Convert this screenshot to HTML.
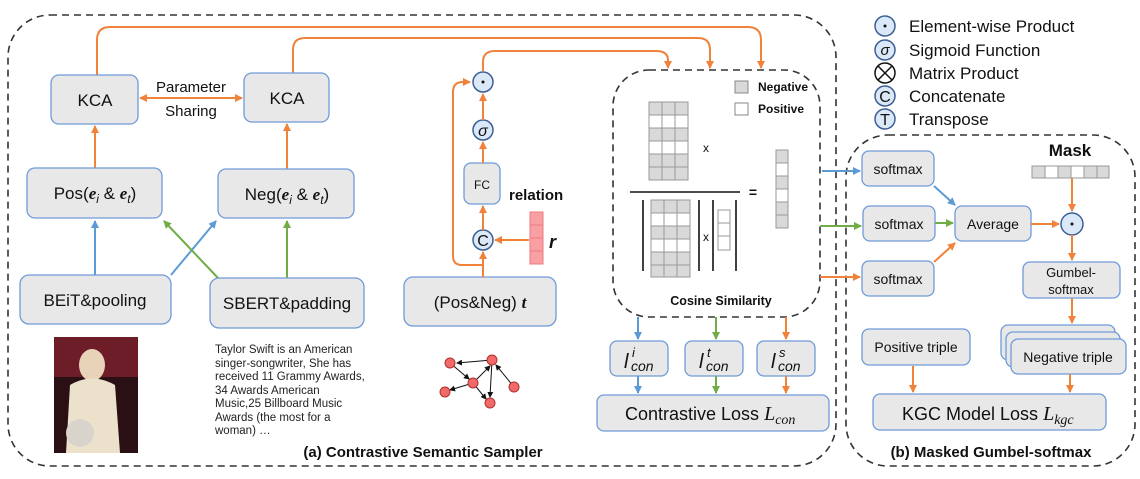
<!DOCTYPE html>
<html><head><meta charset="utf-8"><style>
html,body{margin:0;padding:0;background:#fff}
svg{display:block}
text{font-family:"Liberation Sans",sans-serif}
.b{fill:#e8e8e8;stroke:#6f9bd8;stroke-width:1.3}
.o{stroke:#f0823a;stroke-width:2;fill:none}
.bl{stroke:#5b9bd5;stroke-width:2;fill:none}
.g{stroke:#70ad47;stroke-width:2;fill:none}
.d{fill:none;stroke:#333;stroke-width:1.6;stroke-dasharray:7,5}
.c{fill:#dbe8f7;stroke:#3c5f95;stroke-width:1.5}
.t{font-size:17px;fill:#111;text-anchor:middle}
.s{font-size:14px;fill:#111;text-anchor:middle}
</style></head><body>
<svg width="1140" height="479" viewBox="0 0 1140 479" xmlns="http://www.w3.org/2000/svg">
<defs>
<marker id="ao" markerWidth="8" markerHeight="8" refX="7" refY="4" orient="auto" markerUnits="userSpaceOnUse"><path d="M0,0 L8,4 L0,8z" fill="#f0823a"/></marker>
<marker id="ab" markerWidth="8" markerHeight="8" refX="7" refY="4" orient="auto" markerUnits="userSpaceOnUse"><path d="M0,0 L8,4 L0,8z" fill="#5b9bd5"/></marker>
<marker id="ag" markerWidth="8" markerHeight="8" refX="7" refY="4" orient="auto" markerUnits="userSpaceOnUse"><path d="M0,0 L8,4 L0,8z" fill="#70ad47"/></marker>
<marker id="aos" markerWidth="8" markerHeight="8" refX="1" refY="4" orient="auto" markerUnits="userSpaceOnUse"><path d="M8,0 L0,4 L8,8z" fill="#f0823a"/></marker>
<marker id="ak" markerWidth="6" markerHeight="6" refX="5" refY="3" orient="auto" markerUnits="userSpaceOnUse"><path d="M0,0 L6,3 L0,6z" fill="#111"/></marker>
</defs>

<!-- outer boxes -->
<rect class="d" x="8" y="15" width="828" height="451" rx="42"/>
<rect class="d" x="846" y="135" width="289" height="331" rx="42"/>
<rect class="d" x="613" y="70" width="207" height="247" rx="36"/>

<!-- top orange lines -->
<path class="o" d="M97,75 V40 Q97,27 110,27 H748 Q761,27 761,40 V68" marker-end="url(#ao)"/>
<path class="o" d="M293,73 V50 Q293,38 305,38 H698 Q710,38 710,50 V68" marker-end="url(#ao)"/>
<path class="o" d="M483,71 V62 Q483,51 495,51 H656 Q668,51 668,60 V68" marker-end="url(#ao)"/>

<!-- KCA -->
<rect class="b" x="51" y="75" width="87" height="49" rx="8"/><text class="t" x="95" y="106">KCA</text>
<rect class="b" x="244" y="73" width="85" height="49" rx="8"/><text class="t" x="287" y="104">KCA</text>
<line class="o" x1="140" y1="98" x2="242" y2="98" marker-start="url(#aos)" marker-end="url(#ao)"/>
<text class="s" x="191" y="92" style="font-size:15px">Parameter</text>
<text class="s" x="191" y="116" style="font-size:15px">Sharing</text>
<line class="o" x1="95" y1="168" x2="95" y2="126" marker-end="url(#ao)"/>
<line class="o" x1="287" y1="169" x2="287" y2="124" marker-end="url(#ao)"/>

<!-- Pos/Neg -->
<rect class="b" x="27" y="168" width="135" height="50" rx="8"/>
<text class="t" x="95" y="199">Pos(<tspan font-weight="bold" font-style="italic" font-family="Liberation Serif">e</tspan><tspan font-size="12" font-style="italic" dy="4">i</tspan><tspan dy="-4"> &amp; </tspan><tspan font-weight="bold" font-style="italic" font-family="Liberation Serif">e</tspan><tspan font-size="12" font-style="italic" dy="4">t</tspan><tspan dy="-4">)</tspan></text>
<rect class="b" x="218" y="169" width="136" height="49" rx="8"/>
<text class="t" x="287" y="200">Neg(<tspan font-weight="bold" font-style="italic" font-family="Liberation Serif">e</tspan><tspan font-size="12" font-style="italic" dy="4">i</tspan><tspan dy="-4"> &amp; </tspan><tspan font-weight="bold" font-style="italic" font-family="Liberation Serif">e</tspan><tspan font-size="12" font-style="italic" dy="4">t</tspan><tspan dy="-4">)</tspan></text>

<!-- cross lines -->
<line class="bl" x1="95" y1="275" x2="95" y2="221" marker-end="url(#ab)"/>
<line class="bl" x1="171" y1="275" x2="216" y2="221" marker-end="url(#ab)"/>
<line class="g" x1="218" y1="278" x2="164" y2="221" marker-end="url(#ag)"/>
<line class="g" x1="287" y1="278" x2="287" y2="221" marker-end="url(#ag)"/>

<!-- BEiT / SBERT / PosNeg t -->
<rect class="b" x="20" y="275" width="151" height="49" rx="9"/><text class="t" x="95" y="306">BEiT&amp;pooling</text>
<rect class="b" x="210" y="278" width="154" height="50" rx="9"/><text class="t" x="287" y="309">SBERT&amp;padding</text>
<rect class="b" x="404" y="277" width="152" height="49" rx="9"/><text class="t" x="480" y="308">(Pos&amp;Neg) <tspan font-weight="bold" font-style="italic" font-family="Liberation Serif">t</tspan></text>

<!-- relation branch -->
<line class="o" x1="483" y1="277" x2="483" y2="252" marker-end="url(#ao)"/>
<path class="o" d="M483,265 H462 Q453,265 453,256 V92 Q453,82 463,82 H470" marker-end="url(#ao)"/>
<circle class="c" cx="483" cy="240" r="10"/><text class="s" x="483" y="246" style="font-size:16px">C</text>
<line class="o" x1="483" y1="230" x2="483" y2="206" marker-end="url(#ao)"/>
<rect class="b" x="464" y="163" width="36" height="41" rx="7"/><text class="s" x="482" y="189" style="font-size:12px">FC</text>
<line class="o" x1="483" y1="163" x2="483" y2="142" marker-end="url(#ao)"/>
<circle class="c" cx="483" cy="130" r="10"/><text class="s" x="483" y="136" style="font-size:16px;font-style:italic" font-family="Liberation Serif">σ</text>
<line class="o" x1="483" y1="120" x2="483" y2="94" marker-end="url(#ao)"/>
<circle class="c" cx="483" cy="82" r="10"/><circle cx="483" cy="82" r="1.5" fill="#111"/>
<text x="509" y="200" style="font-size:15px;font-weight:bold" fill="#111">relation</text>
<g fill="#f9a0a3" stroke="#ef7a80" stroke-width="1">
<rect x="530" y="212" width="13" height="13"/><rect x="530" y="225" width="13" height="13"/><rect x="530" y="238" width="13" height="13"/><rect x="530" y="251" width="13" height="13"/></g>
<text x="549" y="248" style="font-size:18px;font-weight:bold;font-style:italic" font-family="Liberation Serif" fill="#111">r</text>
<line class="o" x1="529" y1="240" x2="495" y2="240" marker-end="url(#ao)"/>

<!-- photo -->
<rect x="54" y="337" width="84" height="116" fill="#2a1014"/>
<rect x="54" y="337" width="84" height="40" fill="#8a2430" opacity="0.7"/>
<ellipse cx="92" cy="365" rx="13" ry="16" fill="#e8d2b8"/>
<path d="M70,385 Q92,372 115,385 L120,453 L66,453 Z" fill="#ece2cc"/>
<ellipse cx="80" cy="433" rx="14" ry="14" fill="#d8d4cc"/>

<!-- text paragraph -->
<g font-size="11.5" fill="#222">
<text x="215" y="353">Taylor Swift is an American</text>
<text x="215" y="367">singer-songwriter, She has</text>
<text x="215" y="380">received 11 Grammy Awards,</text>
<text x="215" y="394">34 Awards American</text>
<text x="215" y="407">Music,25 Billboard Music</text>
<text x="215" y="421">Awards (the most for a</text>
<text x="215" y="434">woman) …</text>
</g>

<!-- graph -->
<g stroke="#111" stroke-width="1" marker-end="url(#ak)">
<line x1="492" y1="360" x2="457" y2="363"/>
<line x1="450" y1="363" x2="469" y2="379"/>
<line x1="473" y1="383" x2="490" y2="366"/>
<line x1="473" y1="383" x2="450" y2="390"/>
<line x1="492" y1="360" x2="490" y2="397"/>
<line x1="514" y1="387" x2="496" y2="365"/>
<line x1="473" y1="383" x2="486" y2="399"/>
</g>
<g fill="#f06a6a" stroke="#b03030" stroke-width="1">
<circle cx="450" cy="363" r="5"/><circle cx="492" cy="360" r="5"/><circle cx="473" cy="383" r="5"/>
<circle cx="445" cy="392" r="5"/><circle cx="514" cy="387" r="5"/><circle cx="490" cy="403" r="5"/></g>

<text x="423" y="457" style="font-size:15px;font-weight:bold;text-anchor:middle" fill="#111">(a) Contrastive Semantic Sampler</text>

<!-- cosine box content -->
<rect x="735" y="81" width="13" height="12" fill="#d9d9d9" stroke="#888"/>
<text x="758" y="91" style="font-size:12px;font-weight:bold" fill="#111">Negative</text>
<rect x="735" y="103" width="13" height="12" fill="#fff" stroke="#888"/>
<text x="758" y="113" style="font-size:12px;font-weight:bold" fill="#111">Positive</text>
<g stroke="#999" stroke-width="1">
<g fill="#d9d9d9"><rect x="649" y="102" width="13" height="13"/><rect x="662" y="102" width="13" height="13"/><rect x="675" y="102" width="13" height="13"/></g>
<g fill="#fff"><rect x="649" y="115" width="13" height="13"/><rect x="662" y="115" width="13" height="13"/><rect x="675" y="115" width="13" height="13"/></g>
<g fill="#d9d9d9"><rect x="649" y="128" width="13" height="13"/><rect x="662" y="128" width="13" height="13"/><rect x="675" y="128" width="13" height="13"/></g>
<g fill="#fff"><rect x="649" y="141" width="13" height="13"/><rect x="662" y="141" width="13" height="13"/><rect x="675" y="141" width="13" height="13"/></g>
<g fill="#d9d9d9"><rect x="649" y="154" width="13" height="13"/><rect x="662" y="154" width="13" height="13"/><rect x="675" y="154" width="13" height="13"/>
<rect x="649" y="167" width="13" height="13"/><rect x="662" y="167" width="13" height="13"/><rect x="675" y="167" width="13" height="13"/></g>
<rect x="776" y="150" width="12" height="13" fill="#d9d9d9"/><rect x="776" y="163" width="12" height="13" fill="#fff"/>
<rect x="776" y="176" width="12" height="13" fill="#d9d9d9"/><rect x="776" y="189" width="12" height="13" fill="#fff"/>
<rect x="776" y="202" width="12" height="13" fill="#d9d9d9"/><rect x="776" y="215" width="12" height="13" fill="#d9d9d9"/>
<g fill="#d9d9d9"><rect x="651" y="200" width="13" height="13"/><rect x="664" y="200" width="13" height="13"/><rect x="677" y="200" width="13" height="13"/></g>
<g fill="#fff"><rect x="651" y="213" width="13" height="13"/><rect x="664" y="213" width="13" height="13"/><rect x="677" y="213" width="13" height="13"/></g>
<g fill="#d9d9d9"><rect x="651" y="226" width="13" height="13"/><rect x="664" y="226" width="13" height="13"/><rect x="677" y="226" width="13" height="13"/></g>
<g fill="#fff"><rect x="651" y="239" width="13" height="13"/><rect x="664" y="239" width="13" height="13"/><rect x="677" y="239" width="13" height="13"/></g>
<g fill="#d9d9d9"><rect x="651" y="252" width="13" height="13"/><rect x="664" y="252" width="13" height="13"/><rect x="677" y="252" width="13" height="13"/>
<rect x="651" y="265" width="13" height="12"/><rect x="664" y="265" width="13" height="12"/><rect x="677" y="265" width="13" height="12"/></g>
<g fill="#fff"><rect x="718" y="210" width="12" height="13"/><rect x="718" y="223" width="12" height="13"/><rect x="718" y="236" width="12" height="14"/></g>
</g>
<g stroke="#111" stroke-width="1.6">
<line x1="630" y1="192" x2="740" y2="192"/>
<line x1="643" y1="200" x2="643" y2="271"/><line x1="699" y1="200" x2="699" y2="271"/>
<line x1="713" y1="200" x2="713" y2="271"/><line x1="736" y1="200" x2="736" y2="271"/>
</g>
<text x="706" y="152" style="font-size:12px" fill="#111" text-anchor="middle">x</text>
<text x="706" y="241" style="font-size:12px" fill="#111" text-anchor="middle">x</text>
<text x="753" y="197" style="font-size:14px;font-weight:bold" fill="#111" text-anchor="middle">=</text>
<text x="721" y="305" style="font-size:12.5px;font-weight:bold;text-anchor:middle" fill="#111">Cosine Similarity</text>

<!-- loss boxes -->
<line class="bl" x1="638" y1="317" x2="638" y2="339" marker-end="url(#ab)"/>
<line class="g" x1="716" y1="317" x2="716" y2="339" marker-end="url(#ag)"/>
<line class="o" x1="786" y1="317" x2="786" y2="339" marker-end="url(#ao)"/>
<rect class="b" x="610" y="341" width="58" height="35" rx="7"/>
<rect class="b" x="685" y="341" width="58" height="35" rx="7"/>
<rect class="b" x="757" y="341" width="58" height="35" rx="7"/>
<g font-family="Liberation Serif" font-style="italic" fill="#111">
<text x="624" y="368" font-size="20">l</text><text x="632" y="357" font-size="13">i</text><text x="631" y="371" font-size="14">con</text>
<text x="699" y="368" font-size="20">l</text><text x="707" y="357" font-size="13">t</text><text x="706" y="371" font-size="14">con</text>
<text x="771" y="368" font-size="20">l</text><text x="779" y="357" font-size="13">s</text><text x="778" y="371" font-size="14">con</text>
</g>
<line class="bl" x1="638" y1="376" x2="638" y2="393" marker-end="url(#ab)"/>
<line class="g" x1="716" y1="376" x2="716" y2="393" marker-end="url(#ag)"/>
<line class="o" x1="786" y1="376" x2="786" y2="393" marker-end="url(#ao)"/>
<rect class="b" x="597" y="395" width="232" height="36" rx="7"/>
<text x="625" y="420" style="font-size:18px" fill="#111">Contrastive Loss <tspan font-family="Liberation Serif" font-style="italic" font-size="20">L</tspan><tspan font-family="Liberation Serif" font-style="italic" font-size="14" dy="4">con</tspan></text>

<!-- legend -->
<g font-size="17" fill="#111">
<circle class="c" cx="885" cy="26" r="10"/><circle cx="885" cy="26" r="1.5" fill="#111"/><text x="909" y="32">Element-wise Product</text>
<circle class="c" cx="885" cy="50" r="10"/><text x="885" y="55" text-anchor="middle" font-style="italic" font-family="Liberation Serif" font-size="15">σ</text><text x="909" y="56">Sigmoid Function</text>
<circle cx="885" cy="73" r="10" fill="#fff" stroke="#111" stroke-width="1.5"/><path d="M878,66 L892,80 M892,66 L878,80" stroke="#111" stroke-width="1.5"/><text x="909" y="79">Matrix Product</text>
<circle class="c" cx="885" cy="96" r="10"/><text x="885" y="102" text-anchor="middle" font-size="16">C</text><text x="909" y="102">Concatenate</text>
<circle class="c" cx="885" cy="119" r="10"/><text x="885" y="125" text-anchor="middle" font-size="16">T</text><text x="909" y="125">Transpose</text>
</g>

<!-- (b) -->
<line class="bl" x1="822" y1="171" x2="860" y2="171" marker-end="url(#ab)"/>
<line class="g" x1="820" y1="226" x2="861" y2="226" marker-end="url(#ag)"/>
<line class="o" x1="820" y1="277" x2="860" y2="277" marker-end="url(#ao)"/>
<rect class="b" x="862" y="151" width="72" height="35" rx="7"/><text class="s" x="898" y="174">softmax</text>
<rect class="b" x="863" y="206" width="72" height="35" rx="7"/><text class="s" x="899" y="229">softmax</text>
<rect class="b" x="862" y="261" width="72" height="35" rx="7"/><text class="s" x="898" y="284">softmax</text>
<line class="bl" x1="934" y1="186" x2="955" y2="205" marker-end="url(#ab)"/>
<line class="g" x1="935" y1="223" x2="953" y2="223" marker-end="url(#ag)"/>
<line class="o" x1="934" y1="262" x2="955" y2="243" marker-end="url(#ao)"/>
<rect class="b" x="955" y="206" width="76" height="35" rx="7"/><text class="s" x="993" y="229">Average</text>
<line class="o" x1="1031" y1="224" x2="1059" y2="224" marker-end="url(#ao)"/>
<circle class="c" cx="1072" cy="224" r="11"/><circle cx="1072" cy="224" r="1.5" fill="#111"/>
<text x="1070" y="156" style="font-size:17px;font-weight:bold;text-anchor:middle" fill="#111">Mask</text>
<g stroke="#999" stroke-width="1">
<rect x="1032" y="166" width="13" height="12" fill="#d9d9d9"/><rect x="1045" y="166" width="13" height="12" fill="#fff"/>
<rect x="1058" y="166" width="13" height="12" fill="#d9d9d9"/><rect x="1071" y="166" width="13" height="12" fill="#fff"/>
<rect x="1084" y="166" width="13" height="12" fill="#d9d9d9"/><rect x="1097" y="166" width="12" height="12" fill="#d9d9d9"/></g>
<line class="o" x1="1072" y1="178" x2="1072" y2="211" marker-end="url(#ao)"/>
<line class="o" x1="1072" y1="235" x2="1072" y2="260" marker-end="url(#ao)"/>
<rect class="b" x="1023" y="262" width="97" height="36" rx="7"/>
<text class="s" x="1071" y="277" style="font-size:13px">Gumbel-</text><text class="s" x="1071" y="294" style="font-size:13px">softmax</text>
<line class="o" x1="1072" y1="298" x2="1072" y2="323" marker-end="url(#ao)"/>
<rect class="b" x="862" y="329" width="108" height="36" rx="7"/><text class="s" x="916" y="352">Positive triple</text>
<rect class="b" x="1001" y="325" width="114" height="35" rx="7"/>
<rect class="b" x="1006" y="332" width="114" height="35" rx="7"/>
<rect class="b" x="1011" y="339" width="115" height="35" rx="7"/><text class="s" x="1068" y="362">Negative triple</text>
<line class="o" x1="913" y1="366" x2="913" y2="392" marker-end="url(#ao)"/>
<line class="o" x1="1070" y1="374" x2="1070" y2="392" marker-end="url(#ao)"/>
<rect class="b" x="873" y="394" width="233" height="36" rx="7"/>
<text x="902" y="420" style="font-size:18px" fill="#111">KGC Model Loss <tspan font-family="Liberation Serif" font-style="italic" font-size="20">L</tspan><tspan font-family="Liberation Serif" font-style="italic" font-size="14" dy="4">kgc</tspan></text>
<text x="991" y="457" style="font-size:15px;font-weight:bold;text-anchor:middle" fill="#111">(b) Masked Gumbel-softmax</text>
</svg>
</body></html>
